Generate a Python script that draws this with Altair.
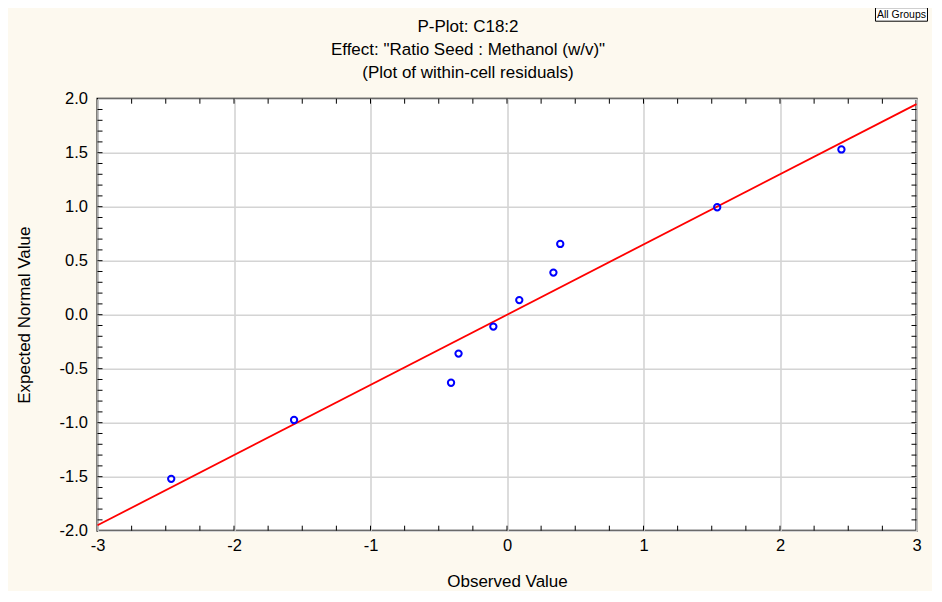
import altair as alt
import pandas as pd

# ---- data ----
observed = [-2.46, -1.56, -0.41, -0.355, -0.10, 0.09, 0.34, 0.39, 1.54, 2.45]
expected = [-1.52, -0.975, -0.63, -0.36, -0.11, 0.135, 0.39, 0.655, 0.995, 1.53]
fit_x = [-3.0, 3.0]
fit_y = [-1.95, 1.95]
x_major = [-3, -2, -1, 0, 1, 2, 3]
y_major = [-2.0, -1.5, -1.0, -0.5, 0.0, 0.5, 1.0, 1.5, 2.0]
x_minor = [round(-3 + 0.25 * i, 2) for i in range(1, 24)]
y_minor = [round(-2 + 0.1 * i, 2) for i in range(1, 40)]
title_lines = ["P-Plot: C18:2", 'Effect: "Ratio Seed : Methanol (w/v)"',
               "(Plot of within-cell residuals)"]
badge = ["All Groups"]

W, H = 819, 432
FONT = "Liberation Sans"
MINUS = "\u2212"

pts = pd.DataFrame({"obs": observed, "exp": expected})
fit = pd.DataFrame({"obs": fit_x, "exp": fit_y})
xt = pd.DataFrame({"obs": x_minor})
yt = pd.DataFrame({"exp": y_minor})

xscale = alt.Scale(domain=[-3, 3], nice=False, zero=False)
yscale = alt.Scale(domain=[-2, 2], nice=False, zero=False)

xaxis = alt.Axis(values=x_major, grid=True, gridColor="#d4d4d4", gridWidth=1.6,
                 ticks=False, domain=False, labelFlush=False, labelOverlap=False,
                 labelFont=FONT, labelFontSize=16.5, labelColor="black", labelPadding=7,
                 labelExpr=f"replace(format(datum.value, 'd'), '{MINUS}', '-')",
                 title="Observed Value", titleFont=FONT, titleFontSize=17,
                 titleFontWeight="normal", titleColor="black", titlePadding=19)
yaxis = alt.Axis(values=y_major, grid=True, gridColor="#d4d4d4", gridWidth=1.6,
                 ticks=False, domain=False, labelFlush=False, labelOverlap=False,
                 labelFont=FONT, labelFontSize=16.5, labelColor="black", labelPadding=10,
                 labelExpr=f"replace(format(datum.value, '.1f'), '{MINUS}', '-')",
                 title="Expected Normal Value", titleFont=FONT, titleFontSize=17,
                 titleFontWeight="normal", titleColor="black", titlePadding=26)

X = alt.X("obs:Q", scale=xscale, axis=xaxis, title="Observed Value")
Y = alt.Y("exp:Q", scale=yscale, axis=yaxis, title="Expected Normal Value")

points = alt.Chart(pts).mark_point(shape="circle", filled=False, size=40,
                                   strokeWidth=2, color="#0000ff", opacity=1).encode(x=X, y=Y)

line = alt.Chart(fit).mark_line(color="#ff0000", strokeWidth=1.8).encode(x=X, y=Y)

TL = 5
tick_style = dict(color="black", strokeWidth=1)
top_ticks = alt.Chart(xt).mark_rule(**tick_style).encode(
    x=X, y=alt.value(0), y2=alt.value(TL))
bot_ticks = alt.Chart(xt).mark_rule(**tick_style).encode(
    x=X, y=alt.value(H), y2=alt.value(H - TL))
left_ticks = alt.Chart(yt).mark_rule(**tick_style).encode(
    y=Y, x=alt.value(0), x2=alt.value(TL))
right_ticks = alt.Chart(yt).mark_rule(**tick_style).encode(
    y=Y, x=alt.value(W), x2=alt.value(W - TL))

# title lines as text marks (centre of the figure, baselines as in reference)
title_layers = []
for txt, yb in zip(title_lines, [-66.4, -43.4, -20.4]):
    title_layers.append(
        alt.Chart(pd.DataFrame({"l": [txt]})).mark_text(
            font=FONT, fontSize=17, color="black", align="center",
            baseline="alphabetic").encode(
            text="l:N", x=alt.value(370.5), y=alt.value(yb)))

box = alt.Chart(pd.DataFrame({"l": badge})).mark_rect(
    fill="white", stroke="black", strokeWidth=1).encode(
    x=alt.value(778), x2=alt.value(830), y=alt.value(-91), y2=alt.value(-77.5))
box_text = alt.Chart(pd.DataFrame({"l": badge})).mark_text(
    font=FONT, fontSize=10.5, color="black", align="center", baseline="middle").encode(
    text="l:N", x=alt.value(804), y=alt.value(-84))

chart = alt.layer(
    line, points, top_ticks, bot_ticks, left_ticks, right_ticks, box, box_text,
    *title_layers
).properties(
    width=W, height=H,
    autosize=alt.AutoSizeParams(type="none"),
    padding={"left": 89.5, "top": 90.7, "right": 15, "bottom": 60},
    background="#fdf9ef",
).configure_view(stroke="black", strokeWidth=2, fill="white")

chart.save("out.html", embed_options={"renderer": "svg", "actions": False})
